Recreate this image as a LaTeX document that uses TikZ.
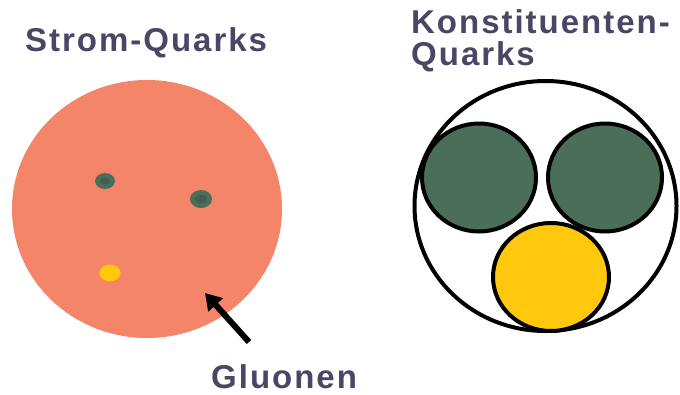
\documentclass[tikz,border=0pt]{standalone}
\usepackage{fontspec}
\setmainfont{Liberation Sans}[LetterSpace=6]
\usetikzlibrary{positioning,arrows.meta}
\definecolor{titel}{RGB}{74,71,102}
\definecolor{lachs}{RGB}{244,133,104}
\definecolor{gruen}{RGB}{74,110,90}
\definecolor{gruendunkel}{RGB}{63,95,80}
\definecolor{gelb}{RGB}{255,200,12}

\begin{document}
\begin{tikzpicture}[x=1pt,y=-1pt,
  titelschrift/.style={font=\bfseries\fontsize{33}{33}\selectfont,text=titel,inner sep=0pt,anchor=base west},
  quarkrand/.style={draw=black,line width=4pt}]
  \useasboundingbox (0,0) rectangle (680,394);
  % linke seite: strom-quarks im proton
  \node[titelschrift] (strom) at (25,51) {Strom-Quarks};
  \fill[lachs] (147,209) ellipse [x radius=135,y radius=129];
  \fill[gruen] (105,181) ellipse [x radius=10,y radius=8];
  \fill[gruendunkel] (105,181) ellipse [x radius=5,y radius=3.5];
  \fill[gruen] (201,199) ellipse [x radius=11,y radius=9];
  \fill[gruendunkel] (201,199) ellipse [x radius=6,y radius=4];
  \fill[gelb] (110,273) ellipse [x radius=10.5,y radius=8.5];
  \coordinate (pfeilfuss) at (249,342);
  \coordinate (pfeilspitze) at (205,293);
  \draw[line width=6pt,-{Triangle[length=16pt,width=19pt]}] (pfeilfuss) -- (pfeilspitze);
  \node[titelschrift] (gluonen) at (211,388) {Gluonen};
  % rechte seite: konstituenten-quarks
  \node[titelschrift] (konst) at (411,33) {Konstituenten-};
  \node[titelschrift] (quarks) at ([yshift=-32pt]konst.base west) {Quarks};
  \draw[quarkrand] (545.5,206) ellipse [x radius=131,y radius=125];
  \filldraw[quarkrand,fill=gruen] (479,177.5) ellipse [x radius=57,y radius=54];
  \filldraw[quarkrand,fill=gruen] (605,177.5) ellipse [x radius=57,y radius=54];
  \filldraw[quarkrand,fill=gelb] (551,277) ellipse [x radius=58,y radius=54];
\end{tikzpicture}
\end{document}
